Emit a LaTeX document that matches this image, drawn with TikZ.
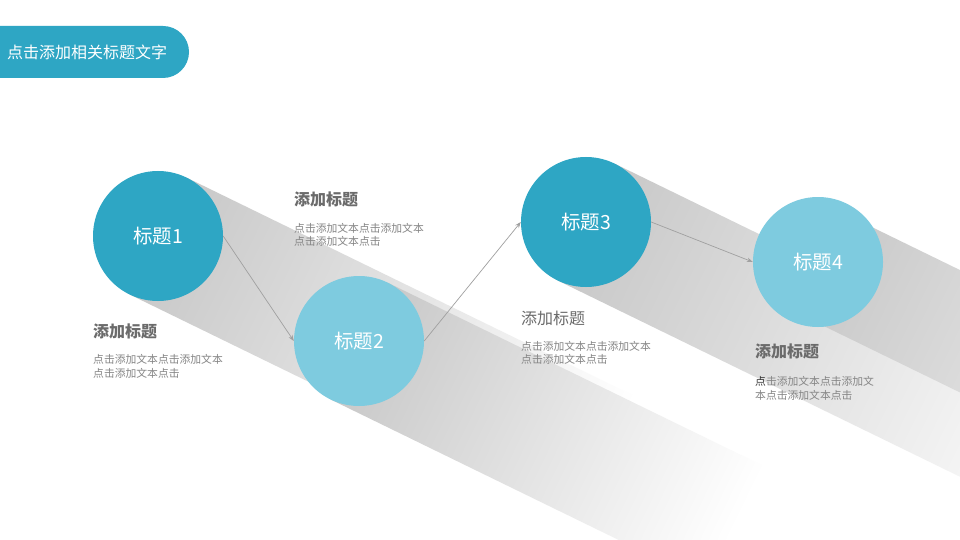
\documentclass[tikz,border=0pt]{standalone}
\usepackage{fontspec}
\setmainfont{Noto Sans CJK SC}
\usetikzlibrary{arrows.meta}
\definecolor{tealdark}{HTML}{2EA6C4}
\definecolor{teallight}{HTML}{7ECBDF}
\definecolor{headgray}{HTML}{6B6B6B}
\definecolor{bodygray}{HTML}{858585}
\definecolor{arrowgray}{HTML}{A0A0A0}
\definecolor{shadowgray}{HTML}{C8C8C8}
\definecolor{darktext}{HTML}{333333}
\begin{document}
\begin{tikzpicture}[x=1pt,y=-1pt,
  circ/.style={circle, minimum size=130pt, inner sep=0pt, text=white, font=\fontsize{19.5}{20}\selectfont},
  dark/.style={circ, fill=tealdark},
  light/.style={circ, fill=teallight},
  head/.style={anchor=west, inner sep=0pt, text=headgray, font=\fontsize{16}{18}\selectfont\bfseries},
  headlight/.style={anchor=west, inner sep=0pt, text=headgray, font=\fontsize{16}{18}\selectfont},
  body/.style={anchor=west, inner sep=0pt, text=bodygray, font=\fontsize{10.8}{12}\selectfont},
  link/.style={draw=arrowgray, line width=0.7pt, -{Stealth[length=6pt,width=4.5pt]}},
  shadowband/.style={left color=shadowgray, right color=white, draw=none}
]
\useasboundingbox (0,0) rectangle (960,540);
\fill[white] (0,0) rectangle (960,540);
\clip (0,0) rectangle (960,540);

% long shadows
\foreach \cx/\cy/\len/\hw in {158/236/500/65, 359/341/420/65, 586/222/560/65, 818/262/520/55} {
  \begin{scope}[transform canvas={shift={(\cx,\cy)}, rotate=-26}]
    \shade[shadowband] (0,-\hw) rectangle (\len,\hw);
  \end{scope}
}

% title banner
\fill[tealdark, rounded corners=26pt] (-40,26) rectangle (189,78);
\node[anchor=west, inner sep=0pt, text=white, font=\fontsize{16}{18}\selectfont] (title) at (7,52) {点击添加相关标题文字};

% circles
\node[dark]  (c1) at (158,236) {标题1};
\node[light] (c2) at (359,341) {标题2};
\node[dark]  (c3) at (586,222) {标题3};
\node[light] (c4) at (818,262) {标题4};

% connectors
\draw[link] (c1.east) -- (c2.west);
\draw[link] (c2.east) -- (c3.west);
\draw[link] (c3.east) -- (c4.west);

% text blocks
\node[head] (h2) at (294,199) {添加标题};
\node[body] (b2a) at (294,228) {点击添加文本点击添加文本};
\node[body] (b2b) at (294,241) {点击添加文本点击};

\node[head] (h1) at (93,331) {添加标题};
\node[body] (b1a) at (93,359) {点击添加文本点击添加文本};
\node[body] (b1b) at (93,373) {点击添加文本点击};

\node[headlight] (h3) at (521,318) {添加标题};
\node[body] (b3a) at (521,346) {点击添加文本点击添加文本};
\node[body] (b3b) at (521,359) {点击添加文本点击};

\node[head] (h4) at (755,351) {添加标题};
\node[body] (b4a) at (755,381) {\textcolor{darktext}{点}击添加文本点击添加文};
\node[body] (b4b) at (755,395) {本点击添加文本点击};
\end{tikzpicture}
\end{document}
